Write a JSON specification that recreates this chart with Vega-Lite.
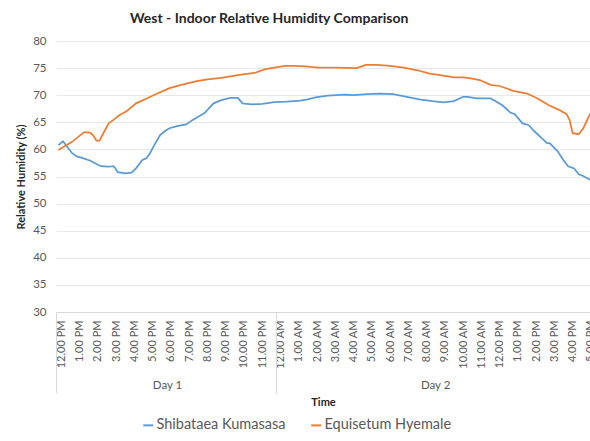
{
  "$schema": "https://vega.github.io/schema/vega-lite/v6.json",
  "autosize": {"type": "none"},
  "width": 534,
  "height": 271,
  "padding": {"left": 56, "top": 41, "right": 0, "bottom": 129},
  "background": "white",
  "title": {"text": "West - Indoor Relative Humidity Comparison", "anchor": "start", "frame": "group", "dx": 74, "offset": 9, "fontSize": 14, "fontWeight": "bold", "font": "Lato", "color": "#262626"},
  "config": {
    "font": "Lato",
    "view": {"stroke": null},
    "axis": {"labelColor": "#595959", "titleColor": "#262626", "labelFont": "Lato", "titleFont": "Lato"}
  },
  "resolve": {"axis": {"x": "independent"}},
  "layer": [
    {
      "data": {"values": [
        {"t": "2021-01-01T12:00", "s": "Shibataea Kumasasa", "rh": 60.8},
        {"t": "2021-01-01T12:15", "s": "Shibataea Kumasasa", "rh": 61.5},
        {"t": "2021-01-01T12:30", "s": "Shibataea Kumasasa", "rh": 60.4},
        {"t": "2021-01-01T12:45", "s": "Shibataea Kumasasa", "rh": 59.3},
        {"t": "2021-01-01T13:00", "s": "Shibataea Kumasasa", "rh": 58.7},
        {"t": "2021-01-01T13:20", "s": "Shibataea Kumasasa", "rh": 58.4},
        {"t": "2021-01-01T13:45", "s": "Shibataea Kumasasa", "rh": 57.9},
        {"t": "2021-01-01T14:05", "s": "Shibataea Kumasasa", "rh": 57.3},
        {"t": "2021-01-01T14:20", "s": "Shibataea Kumasasa", "rh": 56.9},
        {"t": "2021-01-01T14:45", "s": "Shibataea Kumasasa", "rh": 56.8},
        {"t": "2021-01-01T15:00", "s": "Shibataea Kumasasa", "rh": 56.9},
        {"t": "2021-01-01T15:05", "s": "Shibataea Kumasasa", "rh": 56.7},
        {"t": "2021-01-01T15:15", "s": "Shibataea Kumasasa", "rh": 55.8},
        {"t": "2021-01-01T15:40", "s": "Shibataea Kumasasa", "rh": 55.6},
        {"t": "2021-01-01T16:00", "s": "Shibataea Kumasasa", "rh": 55.7},
        {"t": "2021-01-01T16:15", "s": "Shibataea Kumasasa", "rh": 56.5},
        {"t": "2021-01-01T16:35", "s": "Shibataea Kumasasa", "rh": 58.0},
        {"t": "2021-01-01T16:50", "s": "Shibataea Kumasasa", "rh": 58.4},
        {"t": "2021-01-01T17:00", "s": "Shibataea Kumasasa", "rh": 59.2},
        {"t": "2021-01-01T17:15", "s": "Shibataea Kumasasa", "rh": 60.8},
        {"t": "2021-01-01T17:35", "s": "Shibataea Kumasasa", "rh": 62.7},
        {"t": "2021-01-01T17:50", "s": "Shibataea Kumasasa", "rh": 63.4},
        {"t": "2021-01-01T18:05", "s": "Shibataea Kumasasa", "rh": 63.9},
        {"t": "2021-01-01T18:30", "s": "Shibataea Kumasasa", "rh": 64.3},
        {"t": "2021-01-01T19:00", "s": "Shibataea Kumasasa", "rh": 64.6},
        {"t": "2021-01-01T19:20", "s": "Shibataea Kumasasa", "rh": 65.4},
        {"t": "2021-01-01T19:45", "s": "Shibataea Kumasasa", "rh": 66.2},
        {"t": "2021-01-01T20:00", "s": "Shibataea Kumasasa", "rh": 66.7},
        {"t": "2021-01-01T20:30", "s": "Shibataea Kumasasa", "rh": 68.5},
        {"t": "2021-01-01T20:55", "s": "Shibataea Kumasasa", "rh": 69.1},
        {"t": "2021-01-01T21:25", "s": "Shibataea Kumasasa", "rh": 69.5},
        {"t": "2021-01-01T21:50", "s": "Shibataea Kumasasa", "rh": 69.5},
        {"t": "2021-01-01T22:05", "s": "Shibataea Kumasasa", "rh": 68.5},
        {"t": "2021-01-01T22:35", "s": "Shibataea Kumasasa", "rh": 68.3},
        {"t": "2021-01-01T23:10", "s": "Shibataea Kumasasa", "rh": 68.4},
        {"t": "2021-01-01T23:50", "s": "Shibataea Kumasasa", "rh": 68.7},
        {"t": "2021-01-02T00:30", "s": "Shibataea Kumasasa", "rh": 68.8},
        {"t": "2021-01-02T01:15", "s": "Shibataea Kumasasa", "rh": 69.0},
        {"t": "2021-01-02T01:35", "s": "Shibataea Kumasasa", "rh": 69.2},
        {"t": "2021-01-02T02:05", "s": "Shibataea Kumasasa", "rh": 69.6},
        {"t": "2021-01-02T02:45", "s": "Shibataea Kumasasa", "rh": 69.9},
        {"t": "2021-01-02T03:40", "s": "Shibataea Kumasasa", "rh": 70.1},
        {"t": "2021-01-02T04:10", "s": "Shibataea Kumasasa", "rh": 70.0},
        {"t": "2021-01-02T04:55", "s": "Shibataea Kumasasa", "rh": 70.2},
        {"t": "2021-01-02T05:35", "s": "Shibataea Kumasasa", "rh": 70.3},
        {"t": "2021-01-02T06:20", "s": "Shibataea Kumasasa", "rh": 70.2},
        {"t": "2021-01-02T07:05", "s": "Shibataea Kumasasa", "rh": 69.7},
        {"t": "2021-01-02T07:50", "s": "Shibataea Kumasasa", "rh": 69.2},
        {"t": "2021-01-02T08:30", "s": "Shibataea Kumasasa", "rh": 68.9},
        {"t": "2021-01-02T09:05", "s": "Shibataea Kumasasa", "rh": 68.7},
        {"t": "2021-01-02T09:40", "s": "Shibataea Kumasasa", "rh": 68.9},
        {"t": "2021-01-02T10:10", "s": "Shibataea Kumasasa", "rh": 69.7},
        {"t": "2021-01-02T10:25", "s": "Shibataea Kumasasa", "rh": 69.7},
        {"t": "2021-01-02T10:55", "s": "Shibataea Kumasasa", "rh": 69.4},
        {"t": "2021-01-02T11:40", "s": "Shibataea Kumasasa", "rh": 69.4},
        {"t": "2021-01-02T12:00", "s": "Shibataea Kumasasa", "rh": 68.8},
        {"t": "2021-01-02T12:20", "s": "Shibataea Kumasasa", "rh": 68.1},
        {"t": "2021-01-02T12:45", "s": "Shibataea Kumasasa", "rh": 66.8},
        {"t": "2021-01-02T13:00", "s": "Shibataea Kumasasa", "rh": 66.5},
        {"t": "2021-01-02T13:25", "s": "Shibataea Kumasasa", "rh": 64.8},
        {"t": "2021-01-02T13:45", "s": "Shibataea Kumasasa", "rh": 64.5},
        {"t": "2021-01-02T14:05", "s": "Shibataea Kumasasa", "rh": 63.3},
        {"t": "2021-01-02T14:30", "s": "Shibataea Kumasasa", "rh": 62.0},
        {"t": "2021-01-02T14:45", "s": "Shibataea Kumasasa", "rh": 61.2},
        {"t": "2021-01-02T14:55", "s": "Shibataea Kumasasa", "rh": 61.1},
        {"t": "2021-01-02T15:20", "s": "Shibataea Kumasasa", "rh": 59.7},
        {"t": "2021-01-02T15:40", "s": "Shibataea Kumasasa", "rh": 58.0},
        {"t": "2021-01-02T15:55", "s": "Shibataea Kumasasa", "rh": 56.9},
        {"t": "2021-01-02T16:15", "s": "Shibataea Kumasasa", "rh": 56.5},
        {"t": "2021-01-02T16:30", "s": "Shibataea Kumasasa", "rh": 55.4},
        {"t": "2021-01-02T16:45", "s": "Shibataea Kumasasa", "rh": 55.1},
        {"t": "2021-01-02T17:10", "s": "Shibataea Kumasasa", "rh": 54.3},
        {"t": "2021-01-01T12:00", "s": "Equisetum Hyemale", "rh": 59.9},
        {"t": "2021-01-01T12:20", "s": "Equisetum Hyemale", "rh": 60.6},
        {"t": "2021-01-01T12:45", "s": "Equisetum Hyemale", "rh": 61.4},
        {"t": "2021-01-01T13:05", "s": "Equisetum Hyemale", "rh": 62.3},
        {"t": "2021-01-01T13:25", "s": "Equisetum Hyemale", "rh": 63.2},
        {"t": "2021-01-01T13:45", "s": "Equisetum Hyemale", "rh": 63.1},
        {"t": "2021-01-01T13:55", "s": "Equisetum Hyemale", "rh": 62.5},
        {"t": "2021-01-01T14:05", "s": "Equisetum Hyemale", "rh": 61.6},
        {"t": "2021-01-01T14:15", "s": "Equisetum Hyemale", "rh": 61.6},
        {"t": "2021-01-01T14:25", "s": "Equisetum Hyemale", "rh": 62.7},
        {"t": "2021-01-01T14:45", "s": "Equisetum Hyemale", "rh": 64.8},
        {"t": "2021-01-01T15:00", "s": "Equisetum Hyemale", "rh": 65.4},
        {"t": "2021-01-01T15:20", "s": "Equisetum Hyemale", "rh": 66.3},
        {"t": "2021-01-01T15:45", "s": "Equisetum Hyemale", "rh": 67.1},
        {"t": "2021-01-01T16:15", "s": "Equisetum Hyemale", "rh": 68.5},
        {"t": "2021-01-01T16:50", "s": "Equisetum Hyemale", "rh": 69.4},
        {"t": "2021-01-01T17:25", "s": "Equisetum Hyemale", "rh": 70.3},
        {"t": "2021-01-01T18:05", "s": "Equisetum Hyemale", "rh": 71.3},
        {"t": "2021-01-01T18:50", "s": "Equisetum Hyemale", "rh": 72.0},
        {"t": "2021-01-01T19:35", "s": "Equisetum Hyemale", "rh": 72.6},
        {"t": "2021-01-01T20:10", "s": "Equisetum Hyemale", "rh": 72.9},
        {"t": "2021-01-01T20:55", "s": "Equisetum Hyemale", "rh": 73.2},
        {"t": "2021-01-01T21:30", "s": "Equisetum Hyemale", "rh": 73.5},
        {"t": "2021-01-01T22:00", "s": "Equisetum Hyemale", "rh": 73.8},
        {"t": "2021-01-01T22:45", "s": "Equisetum Hyemale", "rh": 74.1},
        {"t": "2021-01-01T23:20", "s": "Equisetum Hyemale", "rh": 74.8},
        {"t": "2021-01-01T23:50", "s": "Equisetum Hyemale", "rh": 75.1},
        {"t": "2021-01-02T00:25", "s": "Equisetum Hyemale", "rh": 75.4},
        {"t": "2021-01-02T00:55", "s": "Equisetum Hyemale", "rh": 75.4},
        {"t": "2021-01-02T01:30", "s": "Equisetum Hyemale", "rh": 75.3},
        {"t": "2021-01-02T02:15", "s": "Equisetum Hyemale", "rh": 75.1},
        {"t": "2021-01-02T03:10", "s": "Equisetum Hyemale", "rh": 75.1},
        {"t": "2021-01-02T04:20", "s": "Equisetum Hyemale", "rh": 75.0},
        {"t": "2021-01-02T04:50", "s": "Equisetum Hyemale", "rh": 75.6},
        {"t": "2021-01-02T05:25", "s": "Equisetum Hyemale", "rh": 75.6},
        {"t": "2021-01-02T06:10", "s": "Equisetum Hyemale", "rh": 75.4},
        {"t": "2021-01-02T06:55", "s": "Equisetum Hyemale", "rh": 75.1},
        {"t": "2021-01-02T07:40", "s": "Equisetum Hyemale", "rh": 74.6},
        {"t": "2021-01-02T08:20", "s": "Equisetum Hyemale", "rh": 74.0},
        {"t": "2021-01-02T08:55", "s": "Equisetum Hyemale", "rh": 73.7},
        {"t": "2021-01-02T09:40", "s": "Equisetum Hyemale", "rh": 73.3},
        {"t": "2021-01-02T10:10", "s": "Equisetum Hyemale", "rh": 73.3},
        {"t": "2021-01-02T10:35", "s": "Equisetum Hyemale", "rh": 73.1},
        {"t": "2021-01-02T11:05", "s": "Equisetum Hyemale", "rh": 72.8},
        {"t": "2021-01-02T11:40", "s": "Equisetum Hyemale", "rh": 71.9},
        {"t": "2021-01-02T12:10", "s": "Equisetum Hyemale", "rh": 71.7},
        {"t": "2021-01-02T12:55", "s": "Equisetum Hyemale", "rh": 70.8},
        {"t": "2021-01-02T13:40", "s": "Equisetum Hyemale", "rh": 70.3},
        {"t": "2021-01-02T14:15", "s": "Equisetum Hyemale", "rh": 69.4},
        {"t": "2021-01-02T14:50", "s": "Equisetum Hyemale", "rh": 68.2},
        {"t": "2021-01-02T15:25", "s": "Equisetum Hyemale", "rh": 67.3},
        {"t": "2021-01-02T15:50", "s": "Equisetum Hyemale", "rh": 66.5},
        {"t": "2021-01-02T16:00", "s": "Equisetum Hyemale", "rh": 65.4},
        {"t": "2021-01-02T16:10", "s": "Equisetum Hyemale", "rh": 63.0},
        {"t": "2021-01-02T16:30", "s": "Equisetum Hyemale", "rh": 62.8},
        {"t": "2021-01-02T16:45", "s": "Equisetum Hyemale", "rh": 63.9},
        {"t": "2021-01-02T17:00", "s": "Equisetum Hyemale", "rh": 65.7},
        {"t": "2021-01-02T17:10", "s": "Equisetum Hyemale", "rh": 66.8}
      ]},
      "mark": {"type": "line", "strokeWidth": 1.75, "clip": true},
      "encoding": {
        "x": {
          "field": "t", "type": "temporal",
          "scale": {"domain": [{"year": 2021, "month": 1, "date": 1, "hours": 11, "minutes": 52}, {"year": 2021, "month": 1, "date": 2, "hours": 17, "minutes": 7}], "nice": false},
          "axis": {"orient": "bottom", "title": null, "format": "%-I.%M %p", "tickCount": 30, "labelAngle": -90, "labelOverlap": false, "labelPadding": 8, "labelOffset": 3, "ticks": false, "grid": false, "domain": true, "domainColor": "#d9d9d9", "labelFontSize": 11}
        },
        "y": {
          "field": "rh", "type": "quantitative",
          "scale": {"domain": [30, 80], "nice": false, "zero": false},
          "axis": {"title": "Relative Humidity (%)", "values": [30, 35, 40, 45, 50, 55, 60, 65, 70, 75, 80], "grid": true, "gridColor": "#e8e8e8", "domain": false, "ticks": false, "labelPadding": 10, "labelFontSize": 11.5, "titlePadding": 6, "titleFontSize": 11, "titleFontWeight": "bold"}
        },
        "color": {
          "field": "s", "type": "nominal",
          "scale": {"domain": ["Shibataea Kumasasa", "Equisetum Hyemale"], "range": ["#5B9BD5", "#ED7D31"]},
          "legend": {"title": null, "orient": "none", "legendX": 85, "legendY": 377, "direction": "horizontal", "symbolType": "stroke", "symbolSize": 100, "symbolStrokeWidth": 2, "labelFontSize": 14.5, "labelColor": "#595959", "columnPadding": 21, "padding": 0, "labelOffset": 1}
        }
      }
    },
    {
      "data": {"values": [{"b": "2021-01-01T11:52"}, {"b": "2021-01-01T23:55"}]},
      "mark": {"type": "rule", "strokeOpacity": 0},
      "encoding": {
        "x": {
          "field": "b", "type": "temporal",
          "scale": {"domain": [{"year": 2021, "month": 1, "date": 1, "hours": 11, "minutes": 52}, {"year": 2021, "month": 1, "date": 2, "hours": 17, "minutes": 7}], "nice": false},
          "axis": {"orient": "bottom", "title": null, "labels": false, "domain": false, "grid": false, "ticks": true, "tickSize": 81, "tickColor": "#d9d9d9", "tickWidth": 1, "values": [{"year": 2021, "month": 1, "date": 1, "hours": 11, "minutes": 52}, {"year": 2021, "month": 1, "date": 1, "hours": 23, "minutes": 55}]}
        }
      }
    },
    {
      "data": {"values": [{"m": "2021-01-01T17:57", "day": "Day 1"}, {"m": "2021-01-02T08:38", "day": "Day 2"}]},
      "mark": {"type": "rule", "strokeOpacity": 0},
      "encoding": {
        "x": {
          "field": "m", "type": "temporal",
          "scale": {"domain": [{"year": 2021, "month": 1, "date": 1, "hours": 11, "minutes": 52}, {"year": 2021, "month": 1, "date": 2, "hours": 17, "minutes": 7}], "nice": false},
          "axis": {"orient": "bottom", "title": "Time", "values": [{"year": 2021, "month": 1, "date": 1, "hours": 17, "minutes": 57}, {"year": 2021, "month": 1, "date": 2, "hours": 8, "minutes": 38}], "labelExpr": "timeFormat(datum.value, '%d') == '01' ? 'Day 1' : 'Day 2'", "ticks": false, "domain": false, "grid": false, "labelAngle": 0, "labelPadding": 67, "labelFontSize": 11.5, "titlePadding": 6, "titleFontSize": 11, "titleFontWeight": "bold"}
        }
      }
    }
  ]
}
